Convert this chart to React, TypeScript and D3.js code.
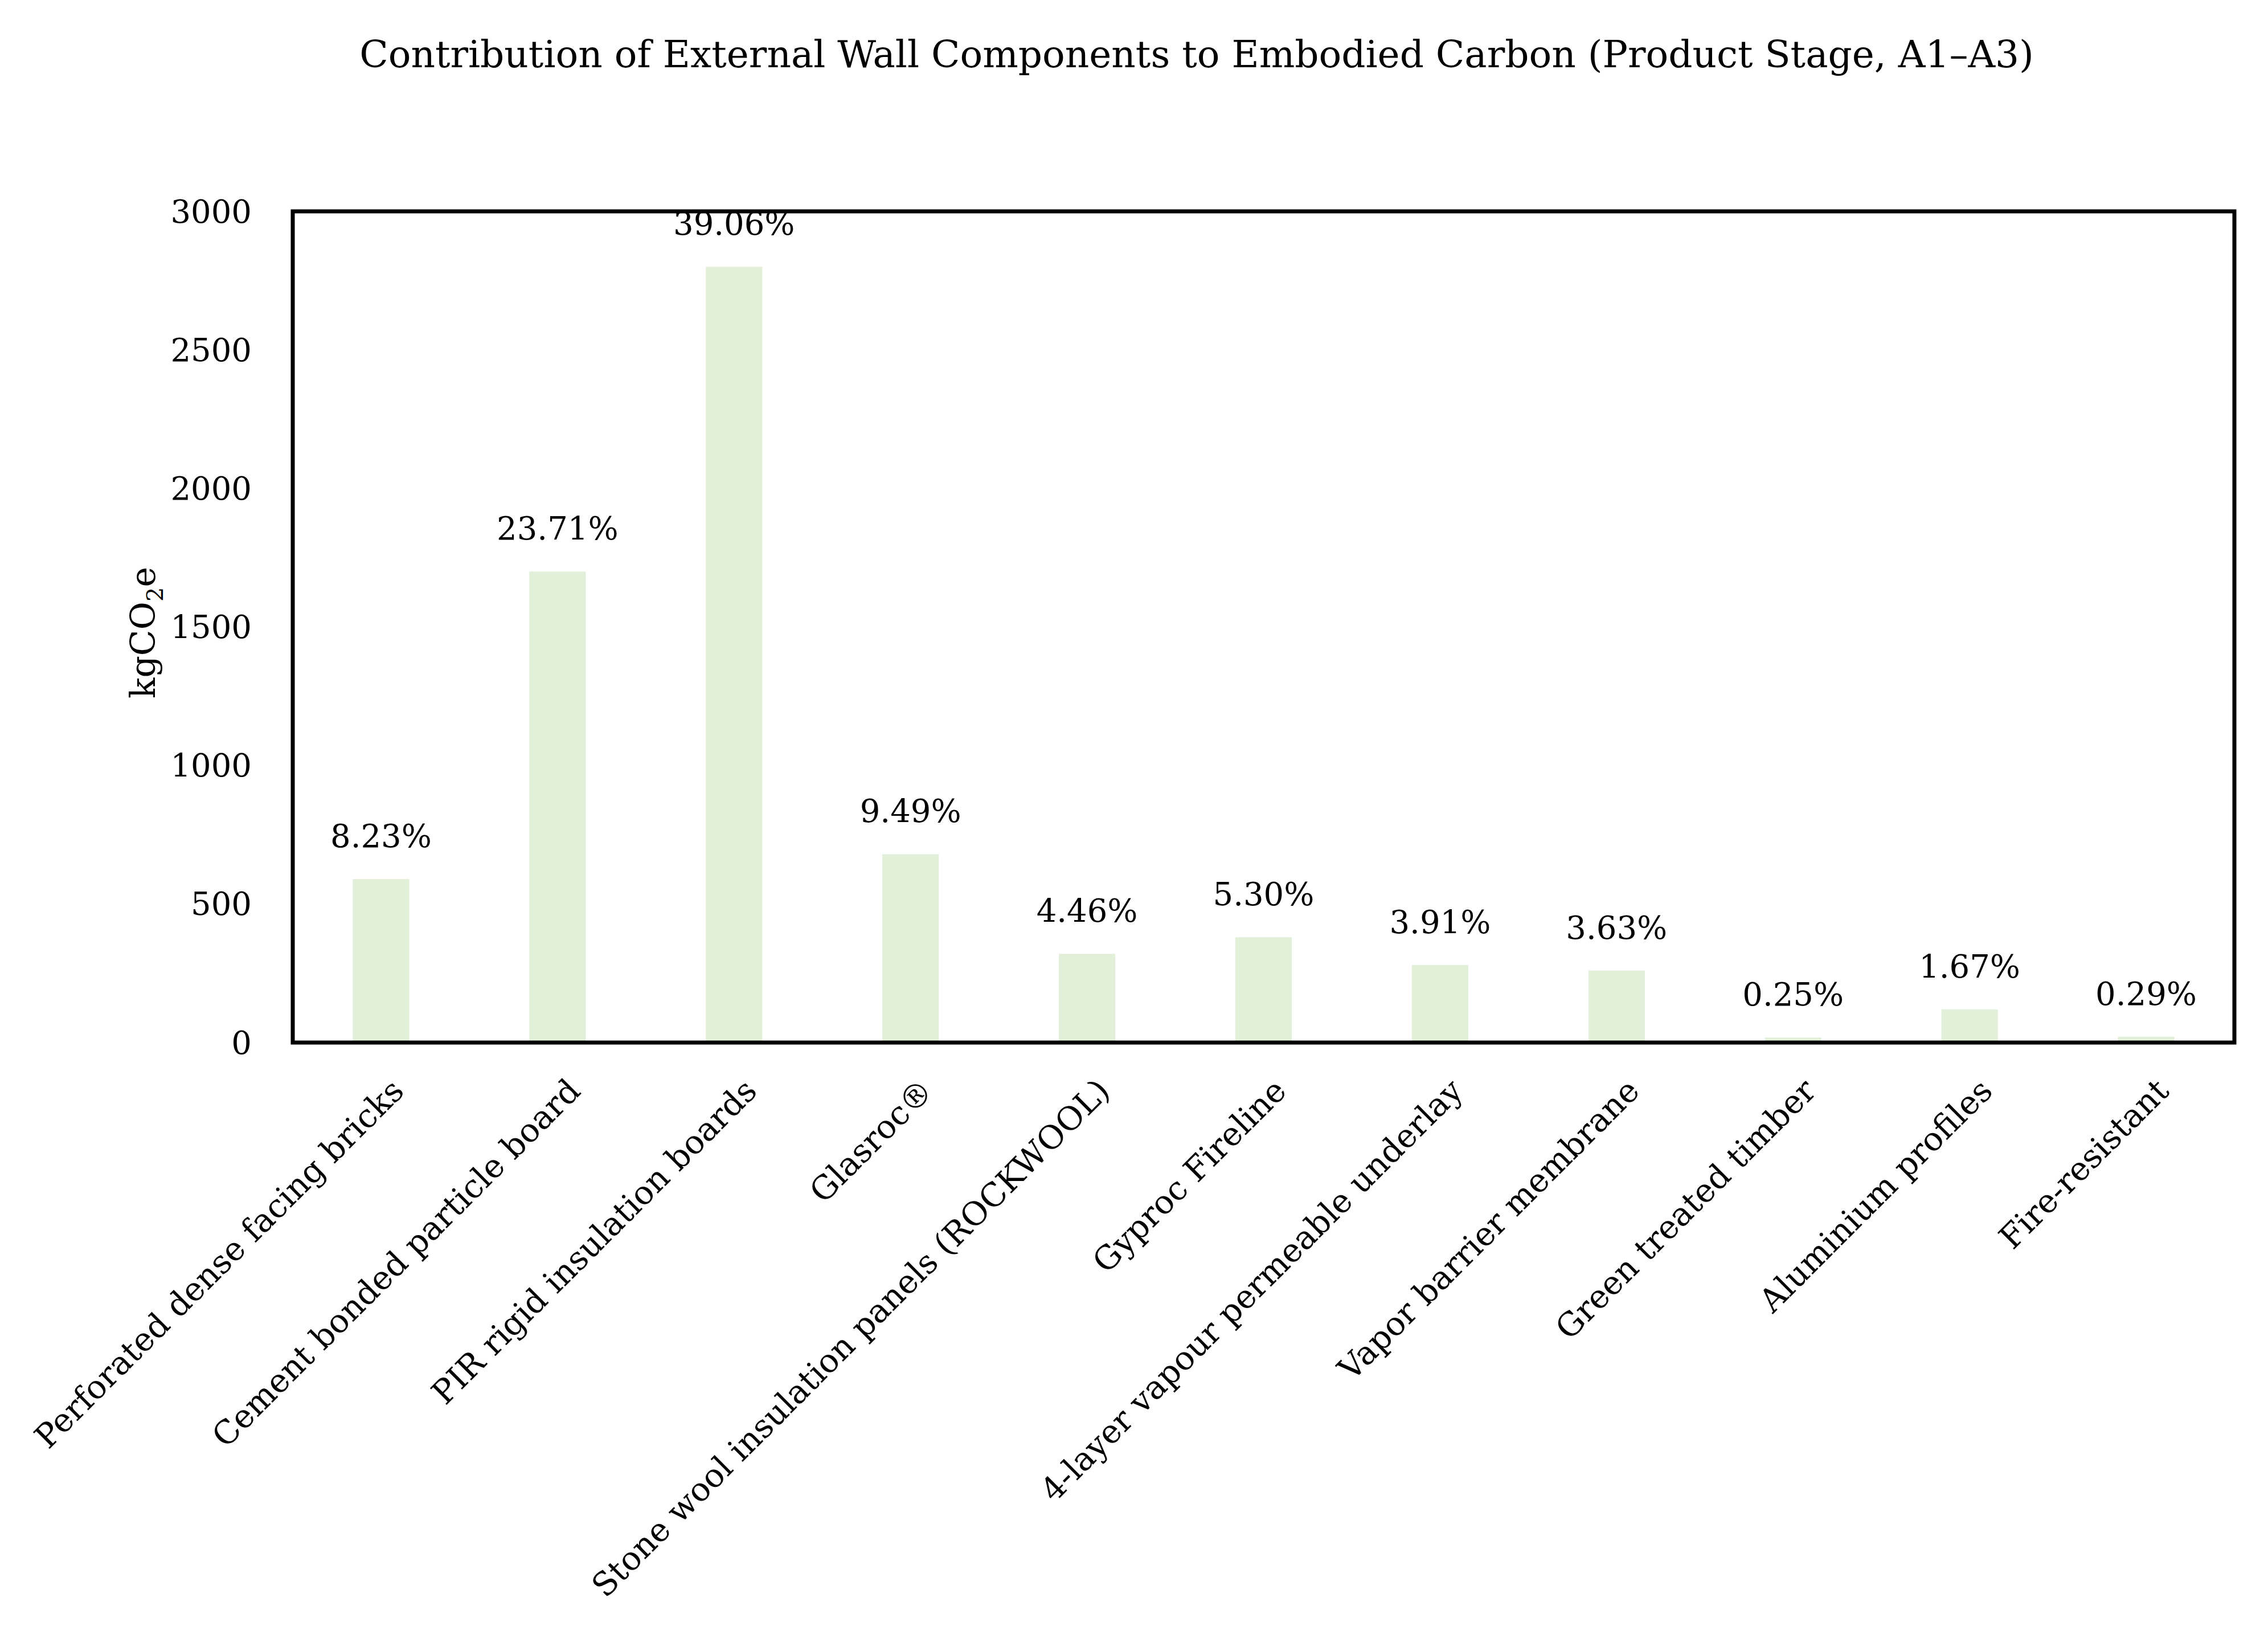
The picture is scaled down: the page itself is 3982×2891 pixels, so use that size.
import React from "react";
import * as d3 from "d3";

const categories = [
  "Perforated dense facing bricks",
  "Cement bonded particle board",
  "PIR rigid insulation boards",
  "Glasroc®",
  "Stone wool insulation panels (ROCKWOOL)",
  "Gyproc Fireline",
  "4-layer vapour permeable underlay",
  "Vapor barrier membrane",
  "Green treated timber",
  "Aluminium profiles",
  "Fire-resistant",
];
const values = [590, 1700, 2800, 680, 320, 380, 280, 260, 18, 120, 21];
const percentLabels = ["8.23%", "23.71%", "39.06%", "9.49%", "4.46%", "5.30%", "3.91%", "3.63%", "0.25%", "1.67%", "0.29%"];
const yTicks = [0, 500, 1000, 1500, 2000, 2500, 3000];

const W = 3982, H = 2891;
const L = 514, R = 3923, T = 371, B = 1830;
const font = "'DejaVu Serif', 'Liberation Serif', serif";

export default function App() {
  const x = d3.scaleBand<string>().domain(categories).range([L, R]).padding(0);
  const y = d3.scaleLinear().domain([0, 3000]).range([B, T]);
  const bw = x.bandwidth() * 0.32;
  return (
    <svg width={W} height={H} style={{ position: "absolute", left: 0, top: 0, background: "#fff" }} fontFamily={font}>
      <text x={2101} y={118} textAnchor="middle" fontSize={66}>
        Contribution of External Wall Components to Embodied Carbon (Product Stage, A1–A3)
      </text>
      {categories.map((c, i) => {
        const cx = x(c)! + x.bandwidth() / 2;
        return (
          <g key={c}>
            <rect x={cx - bw / 2} y={y(values[i])} width={bw} height={B - y(values[i])} fill="#e2efd9" />
            <text x={cx} y={y(values[i]) - 56} textAnchor="middle" fontSize={56}>{percentLabels[i]}</text>
            <text transform={`translate(${cx + 15},${B + 60}) rotate(-45)`} textAnchor="end" dy="0.7em" fontSize={57}>{c}</text>
          </g>
        );
      })}
      <rect x={L} y={T} width={R - L} height={B - T} fill="none" stroke="#000" strokeWidth={7} />
      {yTicks.map((t) => (
        <text key={t} x={L - 72} y={y(t)} dy="0.35em" textAnchor="end" fontSize={56}>{t}</text>
      ))}
      <text transform={`translate(272,${(T + B) / 2 + 10}) rotate(-90)`} textAnchor="middle" fontSize={60}>
        kgCO<tspan fontSize={40} dy={14}>2</tspan><tspan dy={-14}>e</tspan>
      </text>
    </svg>
  );
}
